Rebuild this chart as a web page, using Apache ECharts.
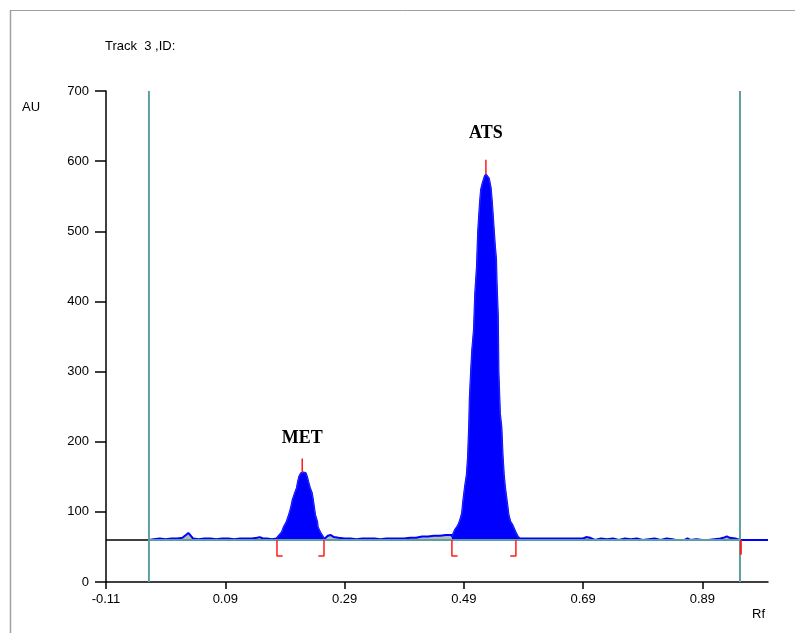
<!DOCTYPE html>
<html>
<head>
<meta charset="utf-8">
<script src="https://cdn.jsdelivr.net/npm/echarts@6/dist/echarts.min.js"></script>
<style>
html,body{margin:0;padding:0;background:#fff;}
#chart{width:795px;height:633px;}
</style>
</head>
<body>
<div id="chart"></div>
<script>
// ---- data ----
const xTicks = [-0.11, 0.09, 0.29, 0.49, 0.69, 0.89];
const yTicks = [0, 100, 200, 300, 400, 500, 600, 700];
const baselineAU = 60;
const trackStart = -0.038;
const trackEnd = 0.953;
const peakNames = ['MET', 'ATS'];
const peakRf = [0.219, 0.527];
const peakMax = [156, 581];
const peakMarkTop = [176, 602];
const peakStart = [0.1767, 0.470];
const peakEnd = [0.2555, 0.5773];
const bracketLowAU = 37;
const labelAU = [205, 640];

const noiseBefore = [[-0.038,60],[-0.03,61],[-0.02,62],[-0.01,61],[0.0,62],[0.01,62],[0.018,63],[0.024,67],[0.028,70],[0.032,66],[0.036,62],[0.045,61],[0.055,62],[0.065,62],[0.075,61],[0.085,62],[0.095,62],[0.105,61],[0.115,62],[0.125,62],[0.135,62],[0.143,63],[0.148,64],[0.153,62],[0.16,62],[0.168,61],[0.176,62]];
const metTrace = [[0.1767,62],[0.180,66],[0.185,71],[0.188,78],[0.193,86],[0.197,96],[0.200,105],[0.203,117],[0.207,127],[0.210,134],[0.212,143],[0.214,150],[0.217,155],[0.221,156],[0.225,155],[0.227,150],[0.229,143],[0.232,134],[0.235,127],[0.237,117],[0.239,105],[0.2405,96],[0.244,86],[0.245,78],[0.249,71],[0.254,64],[0.2555,61]];
const noiseMid = [[0.2555,61],[0.262,66],[0.267,67],[0.272,64],[0.28,63],[0.29,62],[0.30,62],[0.31,61],[0.32,62],[0.33,62],[0.34,62],[0.35,61],[0.36,62],[0.37,62],[0.38,62],[0.39,62],[0.40,63],[0.41,63],[0.42,65],[0.43,65],[0.44,66],[0.45,66],[0.46,67],[0.47,67]];
const atsTrace = [[0.470,64],[0.472,68],[0.475,74],[0.480,80],[0.483,86],[0.487,98],[0.489,115],[0.492,136],[0.495,153],[0.497,178],[0.499,225],[0.500,262],[0.502,298],[0.504,330],[0.507,360],[0.509,410],[0.512,450],[0.514,500],[0.517,540],[0.519,560],[0.522,570],[0.525,578],[0.527,581],[0.530,580],[0.532,575],[0.535,562],[0.537,542],[0.540,505],[0.542,480],[0.544,460],[0.545,425],[0.547,380],[0.548,300],[0.5505,240],[0.553,220],[0.555,180],[0.557,153],[0.559,135],[0.5625,112],[0.565,95],[0.568,86],[0.571,82],[0.5773,70],[0.581,64],[0.585,62]];
const noiseAfter = [[0.585,62],[0.59,62],[0.60,62],[0.61,62],[0.62,62],[0.63,62],[0.64,62],[0.65,62],[0.66,62],[0.67,62],[0.68,62],[0.69,62],[0.695,64],[0.698,66],[0.702,63],[0.71,60],[0.72,62],[0.73,61],[0.74,62],[0.75,60],[0.76,62],[0.77,61],[0.78,62],[0.79,60],[0.80,61],[0.81,62],[0.82,60],[0.83,62],[0.84,61],[0.845,60],[0.86,60],[0.865,62],[0.87,60],[0.88,61],[0.89,60],[0.90,60],[0.91,61],[0.92,62],[0.925,63],[0.931,65],[0.936,63],[0.945,62],[0.953,60],[1.0,60]];

// ---- build ----
const fullTrace = noiseBefore.concat(metTrace, noiseMid, atsTrace, noiseAfter);
const peakTraces = [metTrace, atsTrace];
const TEAL = '#5f9ea0';
const RED = '#ff1a1a';
const BLUE = '#0000ff';

const series = [];
series.push({
  type: 'line', data: fullTrace, showSymbol: false, z: 2,
  lineStyle: { color: BLUE, width: 2 },
  areaStyle: { color: '#b8b8b8', opacity: 1, origin: baselineAU },
  animation: false, silent: true
});
peakTraces.forEach(function (tr) {
  series.push({
    type: 'line', data: tr, showSymbol: false, z: 3,
    lineStyle: { color: '#2a2aff', width: 1 },
    areaStyle: { color: BLUE, opacity: 1, origin: baselineAU },
    animation: false, silent: true
  });
});
series.push({
  type: 'line', data: [[xTicks[0], baselineAU], [trackStart, baselineAU]], showSymbol: false, z: 4,
  lineStyle: { color: '#000', width: 1.5 }, animation: false, silent: true
});
series.push({
  type: 'line', data: [[trackStart, baselineAU], [trackEnd, baselineAU]], showSymbol: false, z: 5,
  lineStyle: { color: TEAL, width: 2 }, animation: false, silent: true
});
[trackStart, trackEnd].forEach(function (x) {
  series.push({
    type: 'line', data: [[x, yTicks[0]], [x, yTicks[yTicks.length - 1]]], showSymbol: false, z: 6,
    lineStyle: { color: TEAL, width: 2 }, animation: false, silent: true
  });
});
const foot = 0.0095;
peakNames.forEach(function (name, i) {
  series.push({
    type: 'line', data: [[peakRf[i], peakMax[i]], [peakRf[i], peakMarkTop[i]]], showSymbol: false, z: 7,
    lineStyle: { color: RED, width: 1.5 }, animation: false, silent: true
  });
  series.push({
    type: 'line', data: [[peakStart[i], baselineAU], [peakStart[i], bracketLowAU], [peakStart[i] + foot, bracketLowAU]], showSymbol: false, z: 7,
    lineStyle: { color: RED, width: 1.5 }, animation: false, silent: true
  });
  series.push({
    type: 'line', data: [[peakEnd[i], baselineAU], [peakEnd[i], bracketLowAU], [peakEnd[i] - foot, bracketLowAU]], showSymbol: false, z: 7,
    lineStyle: { color: RED, width: 1.5 }, animation: false, silent: true
  });
});
series.push({
  type: 'line', data: [[trackEnd + 0.0015, baselineAU], [trackEnd + 0.0015, bracketLowAU + 2]], showSymbol: false, z: 7,
  lineStyle: { color: RED, width: 2 }, animation: false, silent: true
});
series.push({
  type: 'scatter', symbolSize: 0, z: 8, animation: false, silent: true,
  data: peakNames.map(function (n, i) { return { value: [peakRf[i], labelAU[i]], name: n }; }),
  label: {
    show: true, position: 'inside', formatter: '{b}',
    fontFamily: 'Liberation Serif', fontWeight: 'bold', fontSize: 18, color: '#000', opacity: 1
  }
});

const chart = echarts.init(document.getElementById('chart'), null, { renderer: 'canvas' });
chart.setOption({
  animation: false,
  backgroundColor: '#fff',
  grid: { left: 106, right: 27, top: 91, bottom: 51, containLabel: false },
  xAxis: {
    type: 'value', min: -0.11, max: 1.0,
    axisLine: { show: true, onZero: false, lineStyle: { color: '#000', width: 1.5 } },
    axisTick: { show: true, length: 7, lineStyle: { color: '#000', width: 1.5 }, customValues: xTicks },
    axisLabel: { customValues: xTicks, margin: 11, color: '#000', fontFamily: 'Liberation Sans', fontSize: 13,
      formatter: function (v) { return v.toFixed(2); } },
    splitLine: { show: false }
  },
  yAxis: {
    type: 'value', min: 0, max: 700, interval: 100,
    axisLine: { show: true, onZero: false, lineStyle: { color: '#000', width: 1.5 } },
    axisTick: { show: true, length: 11, lineStyle: { color: '#000', width: 1.5 } },
    axisLabel: { margin: 17, color: '#000', fontFamily: 'Liberation Sans', fontSize: 13 },
    splitLine: { show: false }
  },
  graphic: [
    { type: 'line', shape: { x1: 10.5, y1: 10, x2: 10.5, y2: 633 }, style: { stroke: '#a0a0a0', lineWidth: 1.5 } },
    { type: 'line', shape: { x1: 10, y1: 10.5, x2: 795, y2: 10.5 }, style: { stroke: '#a0a0a0', lineWidth: 1 } },
    { type: 'text', left: 105, top: 40, style: { text: 'Track  3 ,ID:', font: '13px "Liberation Sans"', fill: '#000' } },
    { type: 'text', left: 22, top: 101, style: { text: 'AU', font: '13px "Liberation Sans"', fill: '#000' } },
    { type: 'text', left: 752, top: 608, style: { text: 'Rf', font: '13px "Liberation Sans"', fill: '#000' } }
  ],
  series: series
});
</script>
</body>
</html>
